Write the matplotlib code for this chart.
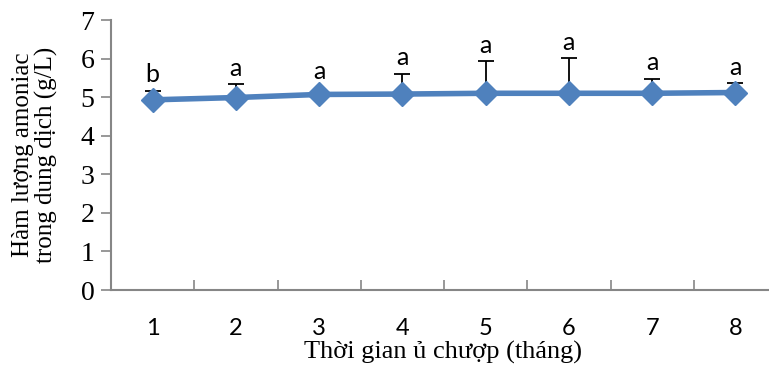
import matplotlib
matplotlib.use("Agg")
import matplotlib.pyplot as plt

months = [1, 2, 3, 4, 5, 6, 7, 8]
month_labels = ["1", "2", "3", "4", "5", "6", "7", "8"]
ammonia = [4.93, 4.99, 5.07, 5.08, 5.10, 5.10, 5.10, 5.12]
err_upper = [0.24, 0.35, 0.0, 0.53, 0.84, 0.92, 0.38, 0.24]
letters = ["b", "a", "a", "a", "a", "a", "a", "a"]
y_ticks = [0, 1, 2, 3, 4, 5, 6, 7]

W, H = 769, 366
fig = plt.figure(figsize=(W/100, H/100), dpi=100)
ax = fig.add_axes([111/W, 76/H, 666/W, 270/H])

blue = "#4F81BD"
ax.errorbar(months, ammonia, yerr=[[0]*8, err_upper], fmt="none",
            ecolor="black", elinewidth=1.3, capsize=6, capthick=1.3, zorder=2)
ax.plot(months, ammonia, color=blue, lw=4, marker="D", markersize=12,
        markeredgecolor=blue, zorder=3)

for x, y, e, t in zip(months, ammonia, err_upper, letters):
    top = y + e if e > 0 else y + 0.2
    ax.annotate(t, (x, top), xytext=(0, 3), textcoords="offset points",
                ha="center", va="bottom", fontsize=18, family="Lato")

ax.set_xlim(0.5, 8.5)
ax.set_ylim(0, 7)
ax.set_yticks(y_ticks)
ax.set_yticklabels([str(v) for v in y_ticks], family="Liberation Serif", fontsize=20)
ax.set_xticks([1.5 + i for i in range(8)], minor=False)
ax.set_xticklabels([])
ax.set_xticks(months, minor=True)
ax.set_xticklabels(month_labels, minor=True, family="Lato", fontsize=17)
ax.tick_params(axis="x", which="major", direction="in", length=7, color="#868686", width=1.2)
ax.tick_params(axis="x", which="minor", length=0, pad=20)
ax.tick_params(axis="y", direction="out", length=7, color="#868686", width=1.2, pad=5)

for s in ["top", "right"]:
    ax.spines[s].set_visible(False)
for s in ["left", "bottom"]:
    ax.spines[s].set_color("#868686")
    ax.spines[s].set_linewidth(1.5)

fig.text(443/W, 1 - 352/H, "Thời gian ủ chượp (tháng)", ha="center", va="center",
         family="Liberation Serif", fontsize=19)
fig.text(35/W, 1 - 155/H, "Hàm lượng amoniac\ntrong dung dịch (g/L)", rotation=90,
         ha="center", va="center", family="Liberation Serif", fontsize=18,
         linespacing=1.0)

fig.savefig("out.png", dpi=100)
